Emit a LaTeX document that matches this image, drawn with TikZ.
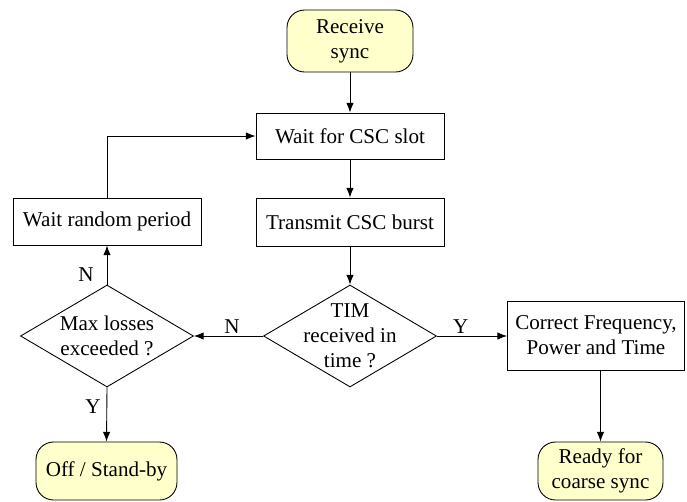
\documentclass[tikz,border=0pt]{standalone}
\usepackage{fontspec}
\setmainfont{Liberation Serif}
\usetikzlibrary{shapes.geometric,arrows.meta}
\definecolor{termfill}{RGB}{255,255,204}

\begin{document}
\begin{tikzpicture}[x=0.02cm,y=-0.02cm,line width=0.5pt,
    >={Latex[length=5.5pt,width=4.2pt]},
    font=\fontsize{12}{14.2}\selectfont,
    process/.style={draw,align=center,inner sep=2pt},
    terminal/.style={draw,fill=termfill,rounded corners=0.35cm,align=center,inner sep=2pt},
    decision/.style={draw,diamond,inner sep=0pt,minimum width=3.46cm,minimum height=2.04cm}]
    \useasboundingbox (0,0) rectangle (687,501);
    % boxes
    \node[terminal,minimum width=2.52cm,minimum height=1.24cm] (recv) at (350,41) {Receive\\sync};
    \node[process,minimum width=3.76cm,minimum height=0.92cm] (slot) at (350,136) {Wait for CSC slot};
    \node[process,minimum width=3.76cm,minimum height=0.96cm] (burst) at (350,222) {Transmit CSC burst};
    \node[process,minimum width=3.76cm,minimum height=0.94cm] (rand) at (107,221.5) {Wait random period};
    \node[decision,label={[align=center]center:TIM\\received in\\time ?}] (tim) at (350,336) {};
    \node[decision,label={[align=center]center:Max losses\\exceeded ?}] (maxl) at (107,336) {};
    \node[process,minimum width=3.54cm,minimum height=1.38cm] (corr) at (596,335.5) {Correct Frequency,\\Power and Time};
    \node[terminal,minimum width=2.82cm,minimum height=1.16cm] (off) at (106.5,471) {Off / Stand-by};
    \node[terminal,minimum width=2.5cm,minimum height=1.16cm] (ready) at (600.5,471) {Ready for\\coarse sync};
    % connectors
    \draw[->] (recv) -- (slot);
    \draw[->] (slot) -- (burst);
    \draw[->] (burst) -- (tim);
    \draw[->] (tim.east) -- node[above,pos=0.34,inner sep=1pt] (tY) {Y} (tim.east -| corr.west);
    \draw[->] (tim.west) -- node[above,pos=0.45,inner sep=1pt] (tN) {N} (maxl.east);
    \draw[->] (maxl.north) -- node[left=4pt,pos=0.25] (mN) {N} (rand.south);
    \draw[->] (rand.north) |- (slot.west);
    \draw[->] (maxl.south) -- node[left,pos=0.35] (mY) {Y} (off.north);
    \draw[->] (corr.south -| ready.north) -- (ready.north);
\end{tikzpicture}
\end{document}
